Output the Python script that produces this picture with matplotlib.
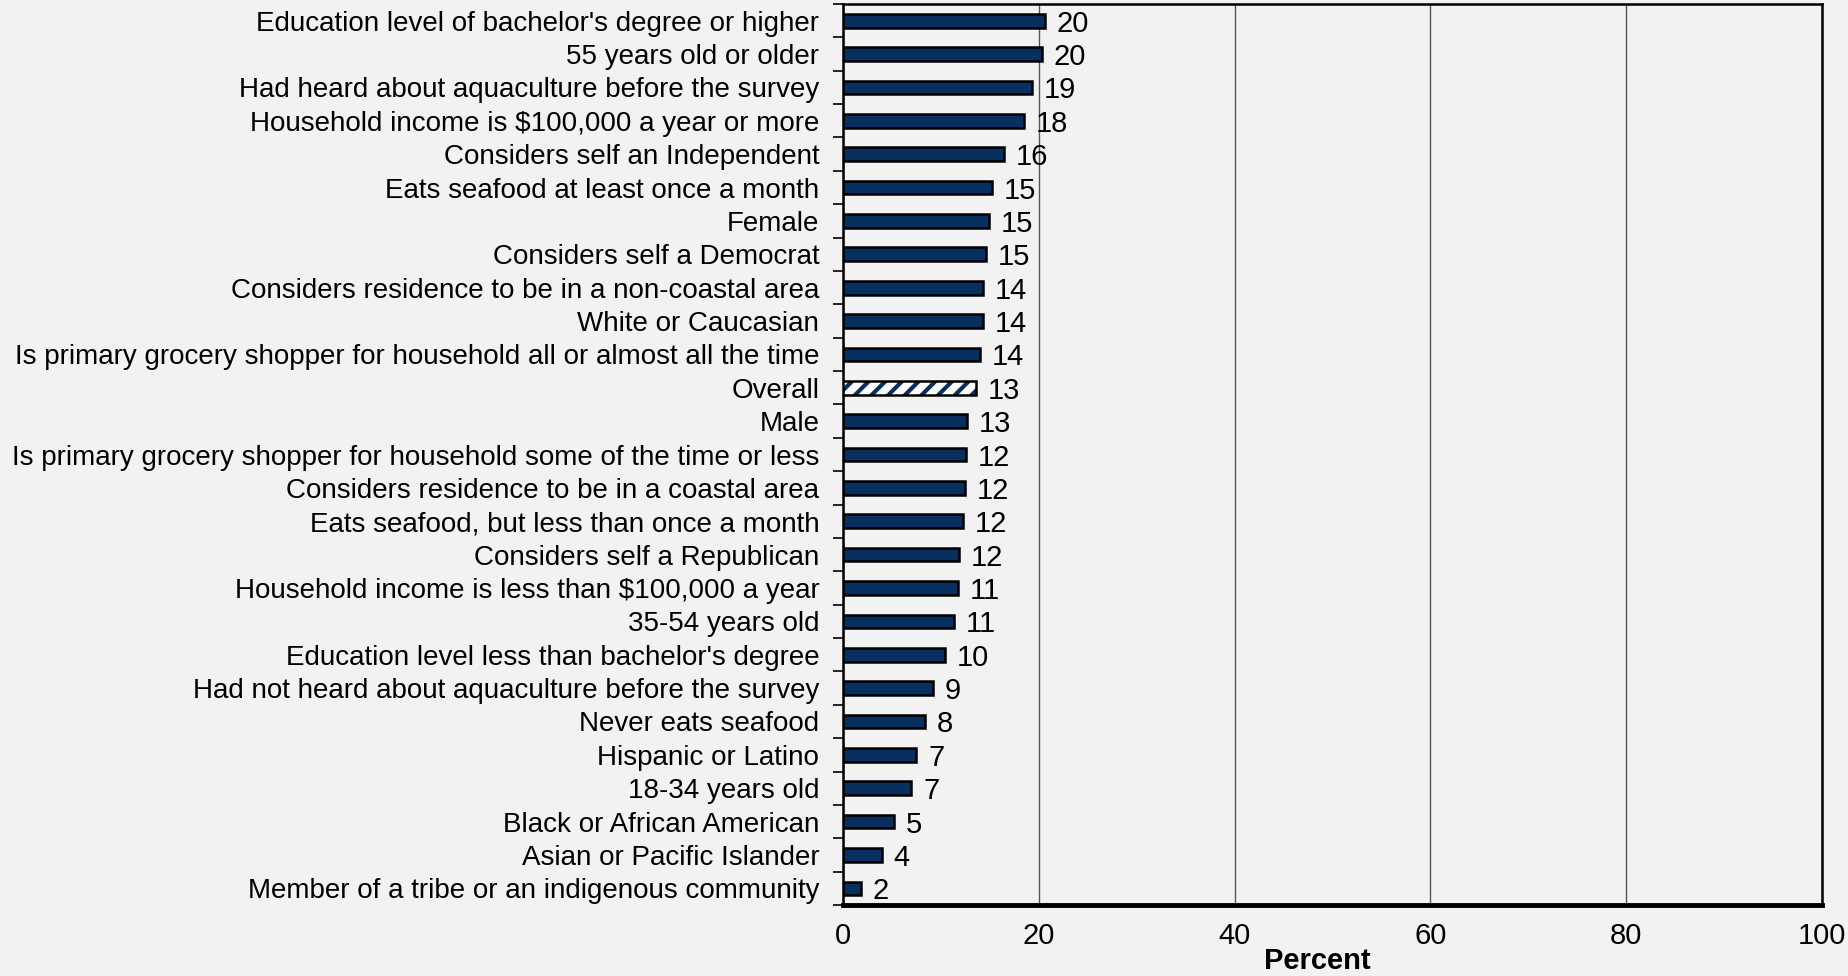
import matplotlib
matplotlib.use("Agg")
import matplotlib.pyplot as plt
import numpy as np

plt.rcParams['font.family'] = ['Liberation Sans', 'DejaVu Sans']
plt.rcParams['hatch.linewidth'] = 3.0

# categories from top to bottom
categories = [
    "Education level of bachelor's degree or higher",
    "55 years old or older",
    "Had heard about aquaculture before the survey",
    "Household income is $100,000 a year or more",
    "Considers self an Independent",
    "Eats seafood at least once a month",
    "Female",
    "Considers self a Democrat",
    "Considers residence to be in a non-coastal area",
    "White or Caucasian",
    "Is primary grocery shopper for household all or almost all the time",
    "Overall",
    "Male",
    "Is primary grocery shopper for household some of the time or less",
    "Considers residence to be in a coastal area",
    "Eats seafood, but less than once a month",
    "Considers self a Republican",
    "Household income is less than $100,000 a year",
    "35-54 years old",
    "Education level less than bachelor's degree",
    "Had not heard about aquaculture before the survey",
    "Never eats seafood",
    "Hispanic or Latino",
    "18-34 years old",
    "Black or African American",
    "Asian or Pacific Islander",
    "Member of a tribe or an indigenous community",
]
values = [20.6, 20.3, 19.3, 18.5, 16.4, 15.2, 14.9, 14.6, 14.3, 14.3, 14.0,
          13.6, 12.7, 12.6, 12.5, 12.3, 11.9, 11.7, 11.3, 10.4, 9.2, 8.4,
          7.5, 7.0, 5.2, 4.0, 1.8]
value_labels = [20, 20, 19, 18, 16, 15, 15, 15, 14, 14, 14, 13, 13, 12, 12,
                12, 12, 11, 11, 10, 9, 8, 7, 7, 5, 4, 2]
highlight = "Overall"

navy = "#08305E"
bg = "#F2F2F2"

fig = plt.figure(figsize=(18.49, 9.76), dpi=100, facecolor=bg)
ax = fig.add_axes([0.4559, 0.0727, 0.5295, 0.9232])
ax.set_facecolor(bg)

y = np.arange(len(categories))
h = 0.41
for i, (cat, v) in enumerate(zip(categories, values)):
    if cat == highlight:
        ax.barh(y[i], v, height=h, color="white", edgecolor=navy, hatch="//",
                linewidth=0, zorder=3)
        ax.barh(y[i], v, height=h, color="none", edgecolor="black",
                linewidth=1.8, zorder=4)
    else:
        ax.barh(y[i], v, height=h, color=navy, edgecolor="black",
                linewidth=1.8, zorder=3)
    ax.text(v + 1.2, y[i], str(value_labels[i]), va="center_baseline",
            ha="left", fontsize=21, zorder=5)

ax.set_ylim(len(categories) - 0.5, -0.5)
ax.set_xlim(0, 100)
ax.set_yticks(y)
ax.set_yticklabels(categories, fontsize=20)
ax.set_yticks(np.arange(len(categories) + 1) - 0.5, minor=True)
ax.tick_params(axis="y", which="major", length=0, pad=17)
ax.tick_params(axis="y", which="minor", length=7, width=1.2, direction="out")

ax.set_xticks([0, 20, 40, 60, 80, 100])
ax.tick_params(axis="x", length=0, pad=12, labelsize=21)
ax.set_xlabel("Percent", fontsize=21, fontweight="bold", labelpad=0)
ax.xaxis.set_label_coords(0.485, -0.047)

ax.xaxis.grid(True, color="#555555", linewidth=1.0, zorder=0)
ax.set_axisbelow(True)

for side in ["top", "right", "left"]:
    ax.spines[side].set_linewidth(1.8)
    ax.spines[side].set_color("black")
ax.spines["bottom"].set_linewidth(3.5)
ax.spines["bottom"].set_color("black")

fig.savefig("out.png", dpi=100, facecolor=bg)
